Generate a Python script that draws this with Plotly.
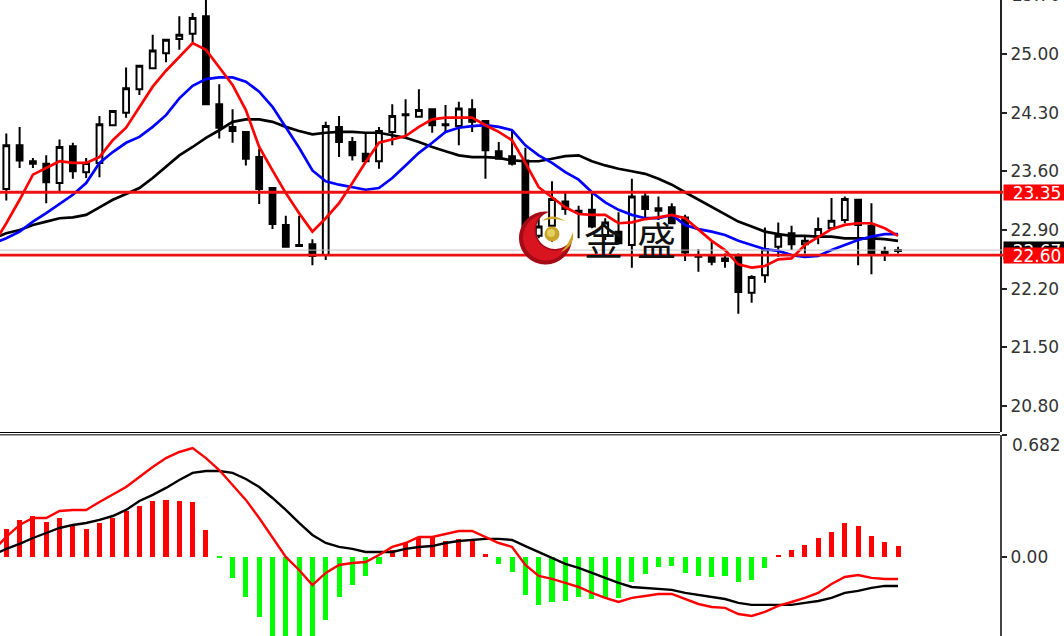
import numpy as np
import plotly.graph_objects as go

# ---------- price panel data (one candle per session) ----------
days = list(range(68))
ma_days = list(range(-1, 68))
opens = [23.39,23.91,23.72,23.69,23.46,23.90,23.59,23.70,24.15,24.30,24.58,24.83,25.01,25.18,25.24,25.45,24.40,24.13,24.07,23.77,
         23.40,22.96,22.72,22.73,22.60,24.13,23.95,23.81,23.72,24.07,24.28,24.25,24.34,24.16,24.14,24.34,24.20,23.84,23.78,23.73,
         22.83,22.95,23.24,23.13,23.14,22.84,22.88,22.72,23.30,23.13,23.17,23.05,22.59,22.59,22.53,22.59,22.15,22.36,22.70,22.86,
         22.73,22.82,22.92,23.02,23.26,22.95,22.61,22.66]
highs = [24.05,24.13,23.76,23.79,23.98,23.94,23.76,24.26,24.32,24.84,24.86,25.23,25.18,25.45,25.49,25.70,24.64,24.34,24.08,23.87,
         23.40,23.07,23.07,22.79,24.19,24.26,24.01,24.06,24.13,24.40,24.46,24.58,24.34,24.39,24.43,24.46,24.20,23.95,24.09,23.88,
         23.03,23.48,23.34,23.19,23.35,23.04,23.11,23.51,23.34,23.30,23.22,23.08,22.67,22.76,22.62,22.62,22.36,22.93,22.99,22.95,
         22.84,23.05,23.28,23.30,23.27,23.22,22.70,22.70]
lows = [23.25,23.64,23.64,23.22,23.35,23.51,23.52,23.53,24.15,24.24,24.51,24.82,24.90,25.05,25.14,24.40,23.99,23.94,23.67,23.21,
        22.91,22.70,22.70,22.48,22.54,23.77,23.73,23.70,23.63,23.91,24.01,24.25,24.06,24.07,23.91,24.07,23.51,23.75,23.67,22.90,
        22.80,22.76,23.08,22.80,22.92,22.78,22.74,22.45,23.04,23.02,22.97,22.53,22.40,22.48,22.45,21.90,22.03,22.27,22.58,22.66,
        22.62,22.73,22.92,22.98,22.48,22.37,22.53,22.62]
closes = [23.91,23.73,23.69,23.47,23.89,23.60,23.70,24.16,24.32,24.59,24.86,25.04,25.17,25.23,25.43,24.40,24.12,24.08,23.75,23.39,
          22.97,22.70,22.71,22.59,24.14,23.95,23.79,23.72,24.08,24.26,24.27,24.33,24.15,24.15,24.35,24.19,23.85,23.75,23.69,22.92,
          22.94,23.27,23.15,23.11,22.94,22.99,22.74,23.30,23.15,23.16,22.98,22.63,22.58,22.52,22.56,22.16,22.34,22.67,22.83,22.73,
          22.77,22.91,23.01,23.27,22.96,22.62,22.64,22.65]
ma_fast = [22.72,22.98,23.26,23.56,23.64,23.72,23.70,23.70,23.77,23.97,24.12,24.37,24.61,24.80,24.96,25.13,25.05,24.84,24.63,24.33,23.89,
           23.61,23.34,23.10,22.88,23.04,23.22,23.46,23.71,23.94,23.98,24.02,24.13,24.22,24.24,24.24,24.24,24.15,24.07,23.97,23.70,
           23.41,23.29,23.17,23.09,23.08,23.08,22.98,22.99,23.03,23.05,23.08,23.04,22.90,22.77,22.66,22.49,22.45,22.47,22.55,22.56,
           22.72,22.82,22.91,22.96,22.98,22.98,22.92,22.83]
ma_mid = [22.74,22.80,22.88,23.00,23.10,23.21,23.32,23.46,23.70,23.83,23.94,24.01,24.13,24.27,24.47,24.62,24.70,24.72,24.72,24.67,24.55,
          24.37,24.13,23.88,23.61,23.48,23.44,23.41,23.38,23.40,23.52,23.67,23.82,23.94,24.07,24.12,24.14,24.15,24.13,24.09,23.91,
          23.79,23.70,23.59,23.50,23.35,23.23,23.14,23.08,23.04,23.04,23.08,22.96,22.91,22.88,22.84,22.77,22.72,22.67,22.65,22.60,
          22.58,22.59,22.66,22.72,22.78,22.82,22.85,22.85]
ma_slow = [22.80,22.86,22.90,22.96,23.00,23.04,23.05,23.08,23.17,23.26,23.33,23.40,23.52,23.65,23.79,23.89,24.00,24.09,24.19,24.22,24.22,
           24.19,24.13,24.08,24.04,24.06,24.07,24.07,24.06,24.06,24.03,24.00,23.95,23.89,23.84,23.79,23.77,23.77,23.76,23.73,23.72,
           23.72,23.75,23.78,23.79,23.72,23.67,23.63,23.60,23.57,23.51,23.44,23.35,23.26,23.17,23.08,23.00,22.94,22.88,22.85,22.83,
           22.83,22.82,22.82,22.80,22.80,22.80,22.79,22.77]
support_resistance = [23.35, 22.60]
last_price = 22.66
price_ticks = [25.00, 24.30, 23.60, 22.90, 22.20, 21.50, 20.80]

# ---------- MACD panel data ----------
macd_hist = [0.157,0.207,0.229,0.196,0.218,0.179,0.157,0.190,0.218,0.257,0.285,0.313,0.319,0.313,0.307,0.151,-0.006,-0.117,-0.224,-0.335,
             -0.492,-0.576,-0.576,-0.615,-0.352,-0.224,-0.157,-0.106,-0.039,0.039,0.078,0.112,0.112,0.089,0.101,0.089,0.017,-0.039,-0.084,-0.212,
             -0.268,-0.252,-0.246,-0.224,-0.235,-0.229,-0.229,-0.140,-0.095,-0.056,-0.050,-0.089,-0.106,-0.112,-0.106,-0.140,-0.129,-0.061,0.006,0.039,
             0.067,0.106,0.140,0.190,0.173,0.117,0.084,0.061]
macd_fast = [0.034,0.112,0.179,0.218,0.218,0.257,0.263,0.263,0.307,0.347,0.391,0.447,0.503,0.553,0.587,0.609,0.553,0.486,0.402,0.319,0.218,
             0.106,0.000,-0.073,-0.157,-0.089,-0.045,-0.034,-0.028,0.011,0.056,0.078,0.112,0.112,0.129,0.145,0.145,0.112,0.078,0.056,-0.045,
             -0.106,-0.123,-0.145,-0.168,-0.201,-0.229,-0.252,-0.229,-0.218,-0.207,-0.207,-0.235,-0.263,-0.280,-0.285,-0.319,-0.330,-0.307,-0.274,-0.252,
             -0.229,-0.201,-0.151,-0.112,-0.101,-0.117,-0.123,-0.123]
macd_slow = [0.011,0.045,0.073,0.106,0.134,0.162,0.179,0.190,0.207,0.229,0.263,0.313,0.347,0.386,0.430,0.470,0.481,0.481,0.470,0.436,0.391,
             0.330,0.263,0.190,0.123,0.078,0.056,0.045,0.028,0.028,0.028,0.045,0.056,0.061,0.078,0.089,0.095,0.101,0.101,0.095,0.061,
             0.028,-0.006,-0.039,-0.061,-0.089,-0.117,-0.145,-0.168,-0.173,-0.179,-0.184,-0.201,-0.212,-0.224,-0.235,-0.257,-0.268,-0.268,-0.268,-0.268,
             -0.257,-0.246,-0.229,-0.201,-0.190,-0.173,-0.162,-0.162]
macd_ticks = [0.682, 0.00]

W, H = 1064, 636
AX_RIGHT = 1000

def px(x):
    return x / W

def py(y):
    return 1 - y / H

fig = go.Figure()
fig.add_trace(go.Candlestick(
    x=days, open=opens, high=highs, low=lows, close=closes, xaxis="x", yaxis="y",
    increasing=dict(line=dict(color="#000000", width=2), fillcolor="#ffffff"),
    decreasing=dict(line=dict(color="#000000", width=2), fillcolor="#000000"),
    whiskerwidth=0, hoverinfo="skip", showlegend=False))
for vals, col in [(ma_slow, "#000000"), (ma_mid, "#0000ff"), (ma_fast, "#ff0000")]:
    fig.add_trace(go.Scatter(x=ma_days, y=vals, mode="lines", xaxis="x", yaxis="y",
                             line=dict(color=col, width=2.7), hoverinfo="skip", showlegend=False))

fig.add_trace(go.Bar(x=days, y=macd_hist, xaxis="x2", yaxis="y2", width=0.38,
                     marker=dict(color=["#ff0000" if v >= 0 else "#00ff00" for v in macd_hist], line=dict(width=0)),
                     hoverinfo="skip", showlegend=False))
for vals, col in [(macd_slow, "#000000"), (macd_fast, "#ff0000")]:
    fig.add_trace(go.Scatter(x=ma_days, y=vals, mode="lines", xaxis="x2", yaxis="y2",
                             line=dict(color=col, width=2.4), hoverinfo="skip", showlegend=False))

shapes = [dict(type="line", xref="paper", x0=0, x1=px(1003), yref="y", y0=last_price, y1=last_price,
               line=dict(color="#c4c4c4", width=1))]
for lv in support_resistance:
    shapes.append(dict(type="line", xref="paper", x0=0, x1=px(1003), yref="y", y0=lv, y1=lv,
                       line=dict(color="#ee1111", width=2.8)))
# panel separators
shapes.append(dict(type="line", xref="paper", yref="paper", x0=0, x1=px(AX_RIGHT), y0=py(432.5), y1=py(432.5),
                   line=dict(color="#000000", width=1)))
shapes.append(dict(type="line", xref="paper", yref="paper", x0=0, x1=px(AX_RIGHT), y0=py(434.8), y1=py(434.8),
                   line=dict(color="#555555", width=1.6)))

# decorative logo: crescent, gold ball and two swooshes
def crescent(cx, cy, r, ix, iy, ir):
    t = np.radians(np.arange(0, 360, 3))
    # outer arc, kept where it lies outside the inner circle
    ox, oy = cx + r * np.cos(t), cy + r * np.sin(t)
    keep = np.hypot(ox - ix, oy - iy) > ir
    start = int(np.argmax(~keep[:-1] & keep[1:])) + 1
    ox, oy, keep = np.roll(ox, -start), np.roll(oy, -start), np.roll(keep, -start)
    ox, oy = ox[keep], oy[keep]
    # inner arc, walked back between the two tips
    a0 = np.arctan2(oy[-1] - iy, ox[-1] - ix)
    a1 = np.arctan2(oy[0] - iy, ox[0] - ix)
    if a1 > a0:
        a1 -= 2 * np.pi
    s = np.linspace(a0, a1, 50)
    xs = list(ox) + list(ix + ir * np.cos(s))
    ys = list(oy) + list(iy + ir * np.sin(s))
    return "M " + " L ".join(f"{px(a):.5f},{py(b):.5f}" for a, b in zip(xs, ys)) + " Z"

def circle_shape(cx, cy, r, col):
    return dict(type="circle", xref="paper", yref="paper", x0=px(cx - r), x1=px(cx + r),
                y0=py(cy + r), y1=py(cy - r), fillcolor=col, line=dict(width=0))

def pth(d, col):
    return dict(type="path", xref="paper", yref="paper", path=d, fillcolor=col, line=dict(width=0))

shapes.append(pth(crescent(545.5, 238, 26.5, 555, 230, 19), "#a30c16"))
shapes.append(pth(crescent(546, 237.5, 23, 555, 230, 20.5), "#d81420"))
shapes.append(circle_shape(552, 234, 7.5, "#c9a62a"))
shapes.append(circle_shape(551, 233, 4, "#e3d060"))
swoosh_top = (f"M {px(542)},{py(221)} Q {px(552)},{py(212)} {px(565)},{py(221)} "
              f"Q {px(553)},{py(217)} {px(542)},{py(221)} Z")
swoosh_right = (f"M {px(573)},{py(232)} Q {px(575)},{py(246)} {px(561)},{py(252)} "
                f"Q {px(569)},{py(244)} {px(573)},{py(232)} Z")
shapes.append(pth(swoosh_top, "#c9a62a"))
shapes.append(pth(swoosh_right, "#c9a62a"))

LABEL_FONT = "DejaVu Sans"
annotations = []

def box_label(text, price, bg, w=66, h=15):
    annotations.append(dict(text=text, xref="paper", x=px(1003), xanchor="left", yref="y", y=price, yanchor="middle",
                            showarrow=False, bgcolor=bg, width=w, height=h, borderpad=0, align="center",
                            font=dict(family=LABEL_FONT, size=17, color="#ffffff")))

box_label("22.67", 22.66, "#000000", h=17)
box_label("23.35", support_resistance[0], "#ff0000")
box_label("22.60", support_resistance[1], "#ff0000")

# labels that sit off their ticks
annotations.append(dict(text="25.70", xref="paper", x=px(1036), xanchor="center", yref="paper", y=py(-4.6),
                        yanchor="middle", showarrow=False, font=dict(family=LABEL_FONT, size=17, color="#333333")))
annotations.append(dict(text="0.682", xref="paper", x=px(1036), xanchor="center", yref="paper", y=py(445),
                        yanchor="middle", showarrow=False, font=dict(family=LABEL_FONT, size=17, color="#333333")))
# logo text
for ch, cx in [("金", 603), ("盛", 656)]:
    annotations.append(dict(text=ch, xref="paper", x=px(cx), xanchor="center", yref="paper", y=py(238),
                            yanchor="middle", showarrow=False,
                            font=dict(family="Noto Sans CJK SC", size=39, color="#111111")))

x_range = [-0.473, 74.66]
fig.update_layout(
    width=W, height=H, autosize=False,
    margin=dict(l=0, r=0, t=0, b=0, pad=0),
    paper_bgcolor="#ffffff", plot_bgcolor="#ffffff",
    showlegend=False, boxgap=0.38, bargap=0,
    xaxis=dict(domain=[0, AX_RIGHT / W], range=x_range, visible=False, anchor="y", rangeslider=dict(visible=False), fixedrange=True),
    xaxis2=dict(domain=[0, AX_RIGHT / W], range=x_range, visible=False, anchor="y2", fixedrange=True),
    yaxis=dict(domain=[1 - 432 / H, 1], range=[20.489, 25.644], side="right", anchor="x",
               tickmode="array", tickvals=price_ticks, ticktext=[f"{v:.2f}" for v in price_ticks],
               ticks="outside", ticklen=5, tickwidth=1.5, tickcolor="#222222",
               showgrid=False, zeroline=False, showline=True, linecolor="#222222", linewidth=2,
               tickfont=dict(family=LABEL_FONT, size=17, color="#333333"), fixedrange=True),
    yaxis2=dict(domain=[0, 1 - 435 / H], range=[-0.442, 0.682], side="right", anchor="x2",
                tickmode="array", tickvals=macd_ticks, ticktext=["", "0.00"],
                ticks="outside", ticklen=5, tickwidth=1.5, tickcolor="#222222",
                showgrid=False, zeroline=False, showline=True, linecolor="#444444", linewidth=2,
                tickfont=dict(family=LABEL_FONT, size=17, color="#333333"), fixedrange=True),
    shapes=shapes, annotations=annotations,
)

fig.write_html("out.html", config=dict(displayModeBar=False),
               post_script="document.body.style.margin='0';document.body.style.overflow='hidden';")
